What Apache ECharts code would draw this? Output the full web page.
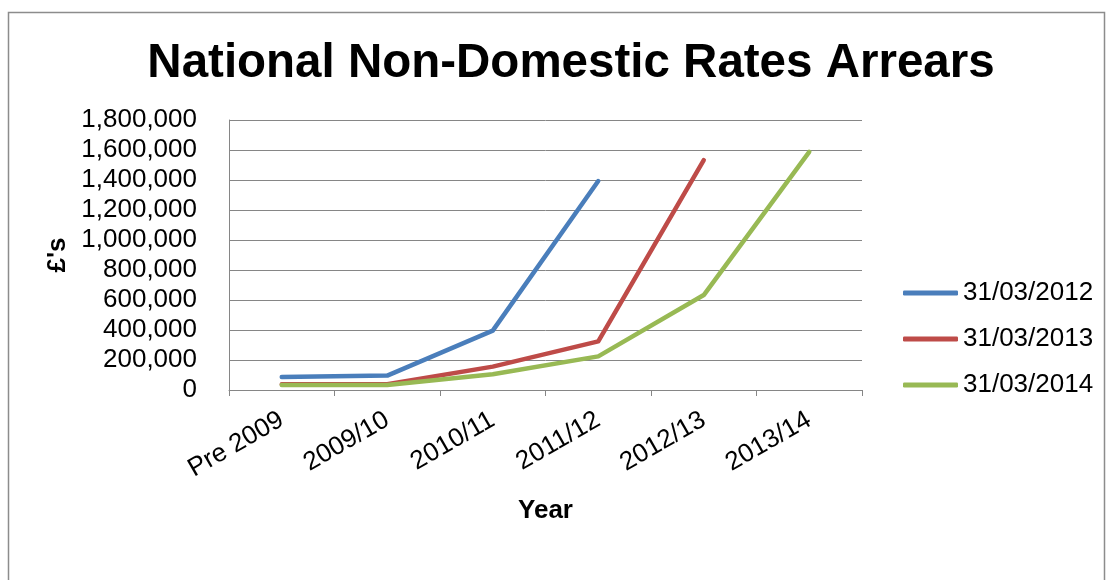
<!DOCTYPE html>
<html lang="en">
<head>
  <meta charset="UTF-8">
  <title>National Non-Domestic Rates Arrears</title>
  <script src="https://cdn.jsdelivr.net/npm/echarts@6/dist/echarts.min.js"></script>
  <style>
    html, body { margin: 0; padding: 0; background: #fff; }
    #chart { width: 1110px; height: 580px; }
  </style>
</head>
<body>
  <div id="chart"></div>
  <script>
    // data
    const years = ['Pre 2009', '2009/10', '2010/11', '2011/12', '2012/13', '2013/14'];
    const arrears2012 = [87000, 96000, 396000, 1393000, null, null];
    const arrears2013 = [38000, 38000, 156000, 324000, 1532000, null];
    const arrears2014 = [34000, 34000, 105000, 224000, 633000, 1588000];

    const font = '"Liberation Sans", Arial, sans-serif';

    function lineSeries(name, data, color) {
      return {
        name: name,
        type: 'line',
        data: data,
        symbol: 'none',
        lineStyle: { width: 4.5, color: color, cap: 'round', join: 'round' },
        itemStyle: { color: color }
      };
    }

    const chart = echarts.init(document.getElementById('chart'));
    chart.setOption({
      backgroundColor: '#fff',
      animation: false,
      textStyle: { fontFamily: font },
      title: {
        text: 'National Non-Domestic Rates Arrears',
        left: 566,
        textAlign: 'center',
        top: 35,
        textStyle: { fontSize: 47.5, fontWeight: 'bold', color: '#000', fontFamily: font }
      },
      graphic: [{
        type: 'rect',
        shape: { x: 8.5, y: 12.5, width: 1096, height: 620 },
        style: { fill: 'none', stroke: '#8c8c8c', lineWidth: 1.5 }
      }],
      legend: {
        orient: 'vertical',
        left: 903,
        top: 280,
        padding: 0,
        icon: 'roundRect',
        itemWidth: 55,
        itemHeight: 5,
        itemGap: 20,
        textStyle: { fontSize: 26, color: '#000', fontFamily: font },
        data: ['31/03/2012', '31/03/2013', '31/03/2014']
      },
      grid: { left: 229, right: 248, top: 120, bottom: 190 },
      xAxis: {
        type: 'category',
        data: years,
        boundaryGap: true,
        name: 'Year',
        nameLocation: 'middle',
        nameGap: 108,
        nameTextStyle: { fontSize: 26, fontWeight: 'bold', color: '#000' },
        axisLine: { lineStyle: { color: '#868686', width: 1 } },
        axisTick: { show: true, length: 6, lineStyle: { color: '#868686' } },
        axisLabel: { rotate: 30, fontSize: 26, color: '#000', margin: 28, interval: 0 }
      },
      yAxis: {
        type: 'value',
        min: 0,
        max: 1800000,
        interval: 200000,
        name: "£'s",
        nameLocation: 'middle',
        nameGap: 157,
        nameRotate: 90,
        nameTextStyle: { fontSize: 26, fontWeight: 'bold', color: '#000' },
        axisLine: { show: true, lineStyle: { color: '#868686', width: 1 } },
        axisTick: { show: false },
        splitLine: { lineStyle: { color: '#868686', width: 1 } },
        axisLabel: {
          fontSize: 26,
          color: '#000',
          margin: 32,
          formatter: v => v.toLocaleString('en-GB')
        }
      },
      series: [
        lineSeries('31/03/2012', arrears2012, '#4A7EBB'),
        lineSeries('31/03/2013', arrears2013, '#BE4B48'),
        lineSeries('31/03/2014', arrears2014, '#98B954')
      ]
    });
  </script>
</body>
</html>
